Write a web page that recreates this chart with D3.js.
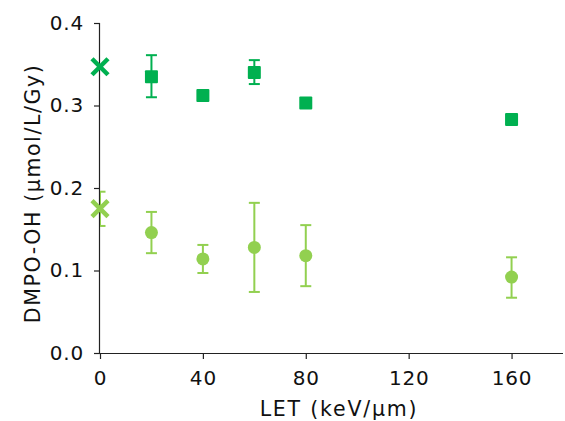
<!DOCTYPE html>
<html>
<head>
<meta charset="utf-8">
<script src="https://cdn.jsdelivr.net/npm/d3@7"></script>
<style>
  body { margin: 0; background: #fff; }
  svg { font-family: "DejaVu Sans", Verdana, sans-serif; }
</style>
</head>
<body>
<svg id="chart" width="565" height="421"></svg>
<script>
// LET values (keV/um); 0 = gamma reference
const letValues = [0, 20, 40, 60, 80, 160];

// dark series (squares)
const darkMean = [0.347, 0.335, 0.312, 0.340, 0.303, 0.283];
const darkLow  = [0.347, 0.310, 0.307, 0.326, 0.303, 0.283];
const darkHigh = [0.347, 0.361, 0.317, 0.355, 0.303, 0.283];

// light series (circles)
const lightMean = [0.175, 0.146, 0.114, 0.128, 0.118, 0.092];
const lightLow  = [0.154, 0.121, 0.097, 0.074, 0.081, 0.067];
const lightHigh = [0.1955, 0.171, 0.131, 0.182, 0.155, 0.116];

const xTicks = [0, 40, 80, 120, 160];
const yTicks = [0, 0.1, 0.2, 0.3, 0.4];

const darkColor = "#00b050";
const lightColor = "#92d050";

const svg = d3.select("#chart");

const x = d3.scaleLinear().domain([0, 180]).range([100, 563]);
const y = d3.scaleLinear().domain([0, 0.4]).range([353, 23]);

// axes
const xAxis = svg.append("g")
  .attr("transform", `translate(0, ${y(0)})`)
  .call(d3.axisBottom(x).tickValues(xTicks).tickSize(6).tickPadding(12).tickFormat(d3.format("d")));
const yAxis = svg.append("g")
  .attr("transform", `translate(${x(0)}, 0)`)
  .call(d3.axisLeft(y).tickValues(yTicks).tickSize(6).tickPadding(10).tickFormat(d3.format(".1f")));

[xAxis, yAxis].forEach(a => {
  a.select(".domain").attr("stroke", "#222").attr("stroke-width", 1.2);
  a.selectAll(".tick line").attr("stroke", "#222").attr("stroke-width", 1.2);
  a.selectAll(".tick text").attr("fill", "#111")
    .style("font-size", "20px").style("letter-spacing", "0.8px")
    .style("font-family", "'DejaVu Sans', Verdana, sans-serif");
});
xAxis.select(".domain").attr("d", `M${x(0)},0.5H${x(180)}`);
yAxis.select(".domain").attr("d", `M-0.5,${y(0)}V${y(0.4)}`);

svg.append("text")
  .attr("x", 339).attr("y", 416)
  .attr("text-anchor", "middle")
  .style("font-size", "20.5px").style("letter-spacing", "1.8px").attr("fill", "#111")
  .text("LET (keV/μm)");

svg.append("text")
  .attr("transform", `translate(39.5, 193.5) rotate(-90)`)
  .attr("text-anchor", "middle")
  .style("font-size", "20.5px").style("letter-spacing", "1.6px").attr("fill", "#111")
  .text("DMPO-OH (μmol/L/Gy)");

svg.append("clipPath").attr("id", "plotClip")
  .append("rect").attr("x", x(0)).attr("y", 0).attr("width", 500).attr("height", 400);

const drawSeries = (mean, low, high, color, shape) => {
  const data = letValues.map((v, i) => ({ v, m: mean[i], lo: low[i], hi: high[i] }));
  const bars = svg.append("g").attr("clip-path", "url(#plotClip)")
    .attr("stroke", color).attr("stroke-width", 2).attr("fill", "none");
  data.filter(d => d.hi - d.lo > 0.012).forEach(d => {
    bars.append("line").attr("x1", x(d.v)).attr("x2", x(d.v)).attr("y1", y(d.lo)).attr("y2", y(d.hi));
    bars.append("line").attr("x1", x(d.v) - 5.5).attr("x2", x(d.v) + 5.5).attr("y1", y(d.lo)).attr("y2", y(d.lo));
    bars.append("line").attr("x1", x(d.v) - 5.5).attr("x2", x(d.v) + 5.5).attr("y1", y(d.hi)).attr("y2", y(d.hi));
  });

  const marks = svg.append("g");
  data.forEach(d => {
    const cx = x(d.v), cy = y(d.m);
    if (d.v === 0) {
      marks.append("path")
        .attr("d", `M${cx - 8},${cy - 8}L${cx + 8},${cy + 8}M${cx - 8},${cy + 8}L${cx + 8},${cy - 8}`)
        .attr("stroke", color).attr("stroke-width", 4.5).attr("fill", "none");
    } else if (shape === "square") {
      marks.append("rect")
        .attr("x", cx - 6.5).attr("y", cy - 6.5).attr("width", 13).attr("height", 13)
        .attr("rx", 1).attr("fill", color);
    } else {
      marks.append("circle").attr("cx", cx).attr("cy", cy).attr("r", 6.5).attr("fill", color);
    }
  });
};

drawSeries(lightMean, lightLow, lightHigh, lightColor, "circle");
drawSeries(darkMean, darkLow, darkHigh, darkColor, "square");
</script>
</body>
</html>
